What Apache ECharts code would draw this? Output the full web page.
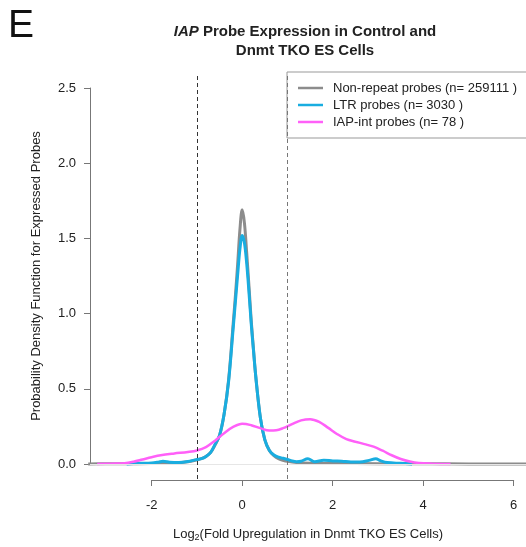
<!DOCTYPE html>
<html>
<head>
<meta charset="utf-8">
<script src="https://cdn.jsdelivr.net/npm/echarts@6/dist/echarts.min.js"></script>
<style>html,body{margin:0;padding:0;background:#fff}#c{width:526px;height:547px}</style>
</head>
<body>
<div id="c"></div>
<script>
// ---- data ----
var seriesNames = ['Non-repeat probes (n= 259111 )', 'LTR probes (n= 3030 )', 'IAP-int probes (n= 78 )'];
var xTicks = [-2, 0, 2, 4, 6];
var yTicks = [0, 0.5, 1, 1.5, 2, 2.5];
var cutoffs = [-1, 1];

var xNonRepeat = [-3.4, -3.0, -2.5, -2.0, -1.5, -1.2, -1.0, -0.9, -0.8, -0.7, -0.6, -0.5, -0.4, -0.3, -0.2, -0.15, -0.1, -0.05, 0, 0.05, 0.1, 0.15, 0.2, 0.25, 0.3, 0.4, 0.5, 0.6, 0.7, 0.8, 0.9, 1.0, 1.2, 1.5, 2.0, 3.0, 4.0, 5.0, 6.4];
var yNonRepeat = [0, 0.001, 0.002, 0.003, 0.007, 0.015, 0.027, 0.035, 0.05, 0.075, 0.125, 0.19, 0.33, 0.56, 0.93, 1.12, 1.33, 1.56, 1.69, 1.60, 1.40, 1.18, 0.95, 0.76, 0.58, 0.31, 0.16, 0.09, 0.055, 0.035, 0.025, 0.018, 0.01, 0.005, 0.003, 0.002, 0.001, 0.0005, 0];

var xLTR = [-2.55, -2.3, -2.0, -1.85, -1.75, -1.6, -1.4, -1.2, -1.0, -0.9, -0.8, -0.7, -0.6, -0.5, -0.4, -0.3, -0.2, -0.15, -0.1, -0.05, 0, 0.05, 0.1, 0.15, 0.2, 0.25, 0.3, 0.4, 0.5, 0.6, 0.7, 0.8, 0.9, 1.0, 1.1, 1.2, 1.3, 1.45, 1.6, 1.8, 2.0, 2.2, 2.4, 2.6, 2.8, 2.95, 3.05, 3.2, 3.5, 3.75];
var yLTR = [0, 0.004, 0.006, 0.012, 0.018, 0.012, 0.01, 0.016, 0.03, 0.035, 0.05, 0.075, 0.13, 0.19, 0.33, 0.55, 0.90, 1.08, 1.26, 1.43, 1.52, 1.47, 1.33, 1.14, 0.93, 0.75, 0.58, 0.31, 0.16, 0.09, 0.06, 0.045, 0.038, 0.03, 0.02, 0.015, 0.018, 0.035, 0.015, 0.025, 0.02, 0.018, 0.013, 0.013, 0.024, 0.035, 0.022, 0.009, 0.004, 0];

var xIAP = [-3.2, -2.9, -2.6, -2.4, -2.2, -2.0, -1.8, -1.5, -1.2, -1.0, -0.8, -0.6, -0.4, -0.2, 0, 0.2, 0.4, 0.6, 0.75, 0.9, 1.1, 1.3, 1.5, 1.7, 1.9, 2.1, 2.3, 2.5, 2.7, 2.9, 3.1, 3.3, 3.5, 3.7, 3.9, 4.2, 4.6];
var yIAP = [0, 0.002, 0.005, 0.015, 0.03, 0.045, 0.058, 0.07, 0.08, 0.09, 0.112, 0.155, 0.205, 0.246, 0.268, 0.258, 0.238, 0.222, 0.224, 0.238, 0.265, 0.29, 0.298, 0.28, 0.24, 0.198, 0.165, 0.148, 0.132, 0.115, 0.088, 0.058, 0.033, 0.016, 0.006, 0.002, 0];

function pairs(xs, ys) { return xs.map(function (x, i) { return [x, ys[i]]; }); }

var FONT = 'Liberation Sans, Arial, Helvetica, sans-serif';
var colors = ['#8c8c8c', '#19ade0', '#ff60f8'];

var chart = echarts.init(document.getElementById('c'), null, { renderer: 'canvas' });

var option = {
  animation: false,
  textStyle: { fontFamily: FONT },
  graphic: [
    { type: 'text', x: 8, y: 7, style: { text: 'E', fontSize: 39, fontFamily: FONT, fill: '#111' } },
    { type: 'text', x: 305, y: 22, style: {
        text: '{i|IAP}{b| Probe Expression in Control and}\n{b|Dnmt TKO ES Cells}',
        textAlign: 'center', fill: '#222',
        rich: {
          i: { fontSize: 15, fontWeight: 'bold', fontStyle: 'italic', fontFamily: FONT, lineHeight: 19, fill: '#222' },
          b: { fontSize: 15, fontWeight: 'bold', fontFamily: FONT, lineHeight: 19, fill: '#222' }
        }
    } }
  ],
  legend: {
    orient: 'vertical', left: 287, top: 72,
    padding: [9, 20, 9, 11],
    itemGap: 3, itemWidth: 25, itemHeight: 2.5,
    icon: 'rect',
    borderColor: '#999', borderWidth: 1,
    data: seriesNames,
    textStyle: { fontSize: 13, color: '#222', fontFamily: FONT, padding: [0, 0, 0, 5], lineHeight: 14 }
  },
  grid: [
    { left: 90, right: 0, top: 73, bottom: 68 },
    { left: 151.7, right: 12.3, top: 88, bottom: 83 }
  ],
  xAxis: [
    { type: 'value', gridIndex: 0, min: -3.36, max: 6.265,
      axisLine: { show: false }, axisTick: { show: false }, axisLabel: { show: false }, splitLine: { show: false },
      name: '{a|Log}{s|2}{a|(Fold Upregulation in Dnmt TKO ES Cells)}',
      nameLocation: 'middle', nameGap: 47,
      nameTextStyle: { rich: {
        a: { fontSize: 13, color: '#222', fontFamily: FONT },
        s: { fontSize: 9, color: '#222', fontFamily: FONT, padding: [7, 0, 0, 0] }
      } } },
    { type: 'value', gridIndex: 1, min: xTicks[0], max: xTicks[xTicks.length - 1], interval: 2, offset: 16,
      axisLine: { show: true, onZero: false, lineStyle: { color: '#777', width: 1 } },
      axisTick: { show: true, length: 6, lineStyle: { color: '#777' } },
      axisLabel: { fontSize: 13, color: '#222', margin: 19, fontFamily: FONT },
      splitLine: { show: false } }
  ],
  yAxis: [
    { type: 'value', gridIndex: 0, min: -0.1, max: 2.6, show: false },
    { type: 'value', gridIndex: 1, min: yTicks[0], max: yTicks[yTicks.length - 1], interval: 0.5, offset: 61.7,
      axisLine: { show: true, onZero: false, lineStyle: { color: '#777', width: 1 } },
      axisTick: { show: true, length: 6, lineStyle: { color: '#777' } },
      axisLabel: { fontSize: 13, color: '#222', margin: 14, fontFamily: FONT, formatter: function (v) { return v.toFixed(1); } },
      splitLine: { show: false },
      name: 'Probability Density Function for Expressed Probes',
      nameLocation: 'middle', nameGap: 47, nameRotate: 90,
      nameTextStyle: { fontSize: 13, color: '#222', fontFamily: FONT } }
  ],
  series: [
    { name: seriesNames[0], type: 'line', xAxisIndex: 0, yAxisIndex: 0, data: pairs(xNonRepeat, yNonRepeat),
      symbol: 'none', smooth: 0.35, lineStyle: { color: colors[0], width: 3 }, itemStyle: { color: colors[0] }, z: 2,
      markLine: { silent: true, symbol: 'none', label: { show: false },
        data: [
          { yAxis: 0, lineStyle: { color: '#e6e6e6', width: 1, type: 'solid' } },
          { xAxis: cutoffs[0], lineStyle: { color: '#333', width: 1, type: [4, 3] } },
          { xAxis: cutoffs[1], lineStyle: { color: '#777', width: 1, type: [4, 3] } }
        ] } },
    { name: seriesNames[1], type: 'line', xAxisIndex: 0, yAxisIndex: 0, data: pairs(xLTR, yLTR),
      symbol: 'none', smooth: 0.35, lineStyle: { color: colors[1], width: 3 }, itemStyle: { color: colors[1] }, z: 3 },
    { name: seriesNames[2], type: 'line', xAxisIndex: 0, yAxisIndex: 0, data: pairs(xIAP, yIAP),
      symbol: 'none', smooth: 0.35, lineStyle: { color: colors[2], width: 2.5 }, itemStyle: { color: colors[2] }, z: 4 }
  ]
};
chart.setOption(option);
</script>
</body>
</html>
